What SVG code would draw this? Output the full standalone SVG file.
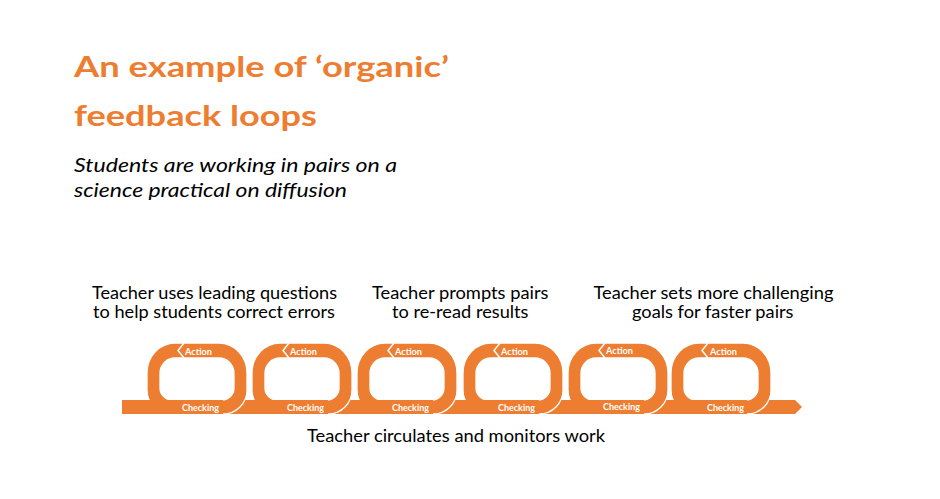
<svg xmlns="http://www.w3.org/2000/svg" xmlns:xlink="http://www.w3.org/1999/xlink" width="940" height="499" viewBox="0 0 940 499">
<style>
.title{font-family:Lato,"Liberation Sans",sans-serif;font-weight:bold;font-size:29px;fill:#ED7D31}
.sub{font-family:Lato,"Liberation Sans",sans-serif;font-style:italic;font-size:19.5px;fill:#000}
.lbl{font-family:Lato,"Liberation Sans",sans-serif;font-size:16.5px;fill:#000}
.sm{font-family:Lato,"Liberation Sans",sans-serif;font-weight:bold;font-size:10px;fill:#fff}
.orange{fill:#ED7D31}
.ring{fill:#ED7D31;fill-rule:evenodd;stroke:#fff;stroke-width:1.3}
.notch{fill:none;stroke:#fff;stroke-width:1.5}
</style>
<defs>
<path id="ring" class="ring" d="M -22,343 H 22 A28,30 0 0 1 50,373 V 390 A24,24 0 0 1 26,414 H -26 A24,24 0 0 1 -50,390 V 373 A28,30 0 0 1 -22,343 Z M -22,358 H 22 A15,15 0 0 1 37,373 V 388 A12,12 0 0 1 25,400 H -25 A12,12 0 0 1 -37,388 V 373 A15,15 0 0 1 -22,358 Z"/>
<rect id="cover" class="orange" x="-54" y="400" width="80" height="14"/>
<polyline id="notch" class="notch" points="-13,343 -19,350.5 -13,358"/>
</defs>
<rect width="940" height="499" fill="#fff"/>
<g id="title">
<text class="title" x="74" y="77" textLength="375" lengthAdjust="spacingAndGlyphs">An example of ‘organic’</text>
<text class="title" x="74" y="126" textLength="243" lengthAdjust="spacingAndGlyphs">feedback loops</text>
</g>
<g id="subtitle">
<text class="sub" x="74" y="172" textLength="323" lengthAdjust="spacingAndGlyphs">Students are working in pairs on a</text>
<text class="sub" x="74" y="197" textLength="273" lengthAdjust="spacingAndGlyphs">science practical on diffusion</text>
</g>
<g id="label-1">
<text class="lbl" x="92" y="298.5" textLength="245" lengthAdjust="spacingAndGlyphs">Teacher uses leading questions</text>
<text class="lbl" x="93" y="318" textLength="242" lengthAdjust="spacingAndGlyphs">to help students correct errors</text>
</g>
<g id="label-2">
<text class="lbl" x="372" y="298.5" textLength="176.5" lengthAdjust="spacingAndGlyphs">Teacher prompts pairs</text>
<text class="lbl" x="392" y="318" textLength="136.5" lengthAdjust="spacingAndGlyphs">to re-read results</text>
</g>
<g id="label-3">
<text class="lbl" x="593.5" y="298.5" textLength="240" lengthAdjust="spacingAndGlyphs">Teacher sets more challenging</text>
<text class="lbl" x="632" y="318" textLength="161.5" lengthAdjust="spacingAndGlyphs">goals for faster pairs</text>
</g>
<g id="timeline">
<path class="orange" d="M122,400 H795 L802,407 L795,414 H122 Z"/>
</g>
<g id="loop-1" transform="translate(197,0)">
<use xlink:href="#ring"/><use xlink:href="#cover"/><use xlink:href="#notch"/>
<text class="sm" x="-12" y="355" textLength="27" lengthAdjust="spacingAndGlyphs">Action</text>
<text class="sm" x="-15" y="411" textLength="37" lengthAdjust="spacingAndGlyphs">Checking</text>
</g>
<g id="loop-2" transform="translate(302,0)">
<use xlink:href="#ring"/><use xlink:href="#cover"/><use xlink:href="#notch"/>
<text class="sm" x="-12" y="355" textLength="27" lengthAdjust="spacingAndGlyphs">Action</text>
<text class="sm" x="-15" y="411" textLength="37" lengthAdjust="spacingAndGlyphs">Checking</text>
</g>
<g id="loop-3" transform="translate(407,0)">
<use xlink:href="#ring"/><use xlink:href="#cover"/><use xlink:href="#notch"/>
<text class="sm" x="-12" y="355" textLength="27" lengthAdjust="spacingAndGlyphs">Action</text>
<text class="sm" x="-15" y="411" textLength="37" lengthAdjust="spacingAndGlyphs">Checking</text>
</g>
<g id="loop-4" transform="translate(513,0)">
<use xlink:href="#ring"/><use xlink:href="#cover"/><use xlink:href="#notch"/>
<text class="sm" x="-12" y="355" textLength="27" lengthAdjust="spacingAndGlyphs">Action</text>
<text class="sm" x="-15" y="411" textLength="37" lengthAdjust="spacingAndGlyphs">Checking</text>
</g>
<g id="loop-5" transform="translate(618,0)">
<use xlink:href="#ring"/><use xlink:href="#cover"/><use xlink:href="#notch"/>
<text class="sm" x="-12" y="354" textLength="27" lengthAdjust="spacingAndGlyphs">Action</text>
<text class="sm" x="-15" y="410" textLength="37" lengthAdjust="spacingAndGlyphs">Checking</text>
</g>
<g id="loop-6" transform="translate(721,0)">
<use xlink:href="#ring"/><use xlink:href="#cover"/><use xlink:href="#notch"/>
<text class="sm" x="-11" y="355" textLength="27" lengthAdjust="spacingAndGlyphs">Action</text>
<text class="sm" x="-14" y="411" textLength="37" lengthAdjust="spacingAndGlyphs">Checking</text>
</g>
<g id="label-bottom">
<text class="lbl" x="307" y="442" textLength="298" lengthAdjust="spacingAndGlyphs">Teacher circulates and monitors work</text>
</g>
</svg>
